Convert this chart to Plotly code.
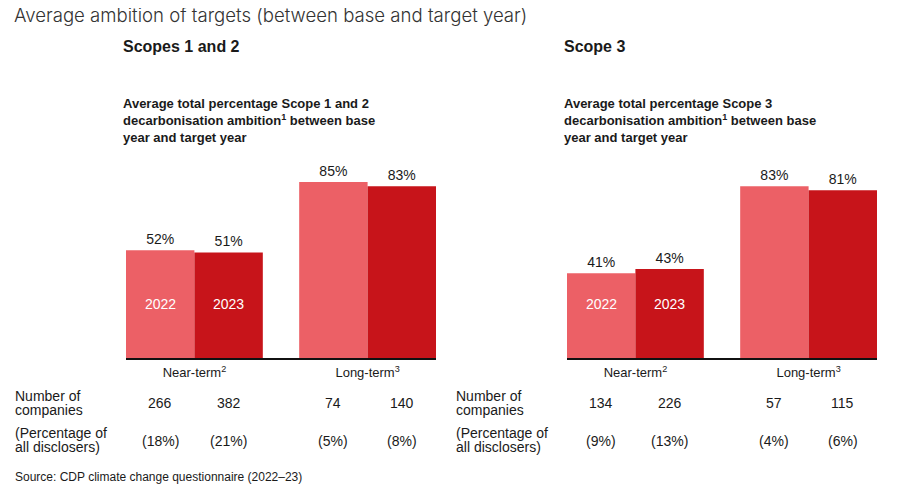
import plotly.graph_objects as go

# The page has an 8px body margin, so the figure is drawn 8px in from the top-left
OFF = 8
W, H = 900 - OFF, 498 - OFF

categories = ["Near-term<sup>2</sup>", "Long-term<sup>3</sup>"]
years = ["2022", "2023"]

s12_2022 = [52, 85]
s12_2023 = [51, 83]
s3_2022 = [41, 83]
s3_2023 = [43, 81]

s12_count_2022 = [266, 74]
s12_count_2023 = [382, 140]
s12_pct_2022 = [18, 5]
s12_pct_2023 = [21, 8]
s3_count_2022 = [134, 57]
s3_count_2023 = [226, 115]
s3_pct_2022 = [9, 4]
s3_pct_2023 = [13, 6]

C_LIGHT = "#EC6066"
C_DARK = "#C7141A"
TXT = "#1a1a1a"
FONT = "Liberation Sans, Arial, sans-serif"


def px(x):
    return (x - OFF) / W


def py(y):
    return 1 - (y - OFF) / H


fig = go.Figure()

xs = [0, 1]
panels = [
    ("x", "y", s12_2022, s12_2023),
    ("x2", "y2", s3_2022, s3_2023),
]
for xa, ya, v22, v23 in panels:
    for vals, col, yr in ((v22, C_LIGHT, years[0]), (v23, C_DARK, years[1])):
        fig.add_trace(go.Bar(
            x=xs, y=vals, name=yr, marker=dict(color=col, line=dict(width=0)),
            texttemplate="%{y}%", textposition="outside",
            textfont=dict(size=14, color=TXT, family=FONT),
            cliponaxis=False, xaxis=xa, yaxis=ya, showlegend=False,
        ))

dom_y = [py(358), py(151)]
axis_common = dict(range=[-0.395, 1.395], tickvals=xs, ticktext=categories,
                   showgrid=False, zeroline=False, showline=True, linecolor="#111",
                   linewidth=1.5, ticks="", ticklabelstandoff=2,
                   tickfont=dict(size=13, color=TXT, family=FONT),
                   fixedrange=True)
yaxis_common = dict(range=[0, 100], visible=False, fixedrange=True)

fig.update_layout(
    width=W, height=H, margin=dict(l=0, r=0, t=0, b=0),
    paper_bgcolor="white", plot_bgcolor="white",
    barmode="group", bargap=0.21, bargroupgap=0,
    xaxis=dict(domain=[px(126), px(436)], anchor="y", **axis_common),
    yaxis=dict(domain=dom_y, anchor="x", **yaxis_common),
    xaxis2=dict(domain=[px(567), px(877)], anchor="y2", **axis_common),
    yaxis2=dict(domain=dom_y, anchor="x2", **yaxis_common),
    font=dict(family=FONT, color=TXT),
)

ann = []


def label(text, x, y, size, color=TXT, family=FONT, **kw):
    ann.append(dict(text=text, x=px(x), y=py(y), xref="paper", yref="paper",
                    xanchor="left", yanchor="middle", align="left", showarrow=False,
                    borderpad=0,
                    font=dict(family=family, size=size, color=color), **kw))


# Main title
ann.append(dict(text="Average ambition of targets (between base and target year)",
                x=px(13), y=py(15), xref="paper", yref="paper", xanchor="left", yanchor="middle",
                showarrow=False, borderpad=0,
                font=dict(family="Inter, sans-serif", size=18.6, color="#333", weight=300)))

panel_titles = [
    (126, "Scopes 1 and 2", ["Average total percentage Scope 1 and 2",
                              "decarbonisation ambition<sup>1</sup> between base",
                              "year and target year"]),
    (567, "Scope 3", ["Average total percentage Scope 3",
                      "decarbonisation ambition<sup>1</sup> between base",
                      "year and target year"]),
]
for x0, t, subs in panel_titles:
    label("<b>%s</b>" % t, x0 - 4, 46, 16)
    for k, s in enumerate(subs):
        label("<b>%s</b>" % s, x0 - 4, 103 + 17 * k, 13)

# Year labels inside near-term bars
for xa in ("x", "x2"):
    for yr, shift in ((years[0], -34.25), (years[1], 34.25)):
        ann.append(dict(text=yr, x=0, y=26, xref=xa, yref="y" if xa == "x" else "y2",
                        xshift=shift, showarrow=False,
                        font=dict(family=FONT, size=14, color="white")))

# Table rows
tables = [
    ("x", 14, s12_count_2022, s12_count_2023, s12_pct_2022, s12_pct_2023),
    ("x2", 455, s3_count_2022, s3_count_2023, s3_pct_2022, s3_pct_2023),
]
for xa, lx, c22, c23, p22, p23 in tables:
    label("Number of", lx, 396, 14)
    label("companies", lx, 410, 14)
    label("(Percentage of", lx, 433, 14)
    label("all disclosers)", lx, 447, 14)
    for i in range(2):
        for cnt, pc, shift in ((c22[i], p22[i], -34.25), (c23[i], p23[i], 34.25)):
            ann.append(dict(text=str(cnt), x=i, y=py(403), xref=xa, yref="paper", xshift=shift,
                            yanchor="middle", showarrow=False,
                            font=dict(family=FONT, size=14, color=TXT)))
            ann.append(dict(text="(%d%%)" % pc, x=i, y=py(441), xref=xa, yref="paper", xshift=shift,
                            yanchor="middle", showarrow=False,
                            font=dict(family=FONT, size=14, color=TXT)))

label("Source: CDP climate change questionnaire (2022\u201323)", 14, 477, 12)

fig.update_layout(annotations=ann)
fig.write_html("out.html")
